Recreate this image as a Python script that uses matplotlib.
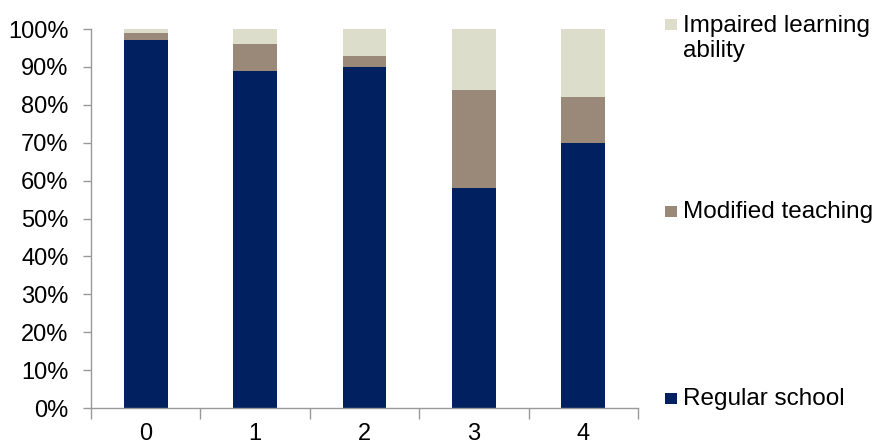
import matplotlib
matplotlib.use("Agg")
import matplotlib.pyplot as plt
from matplotlib.patches import Rectangle
from matplotlib.ticker import FuncFormatter, FixedLocator

plt.rcParams['font.family'] = ['Liberation Sans', 'DejaVu Sans']

categories = ["0", "1", "2", "3", "4"]
regular_school = [97, 89, 90, 58, 70]
modified_teaching = [2, 7, 3, 26, 12]
impaired_learning = [1, 4, 7, 16, 18]

series_names = ["Regular school", "Modified teaching", "Impaired learning\nability"]
colors = ["#002060", "#9A8878", "#DDDDCB"]

fig = plt.figure(figsize=(8.78, 4.45), dpi=100)
ax = fig.add_axes([0.1036, 0.0831, 0.6231, 0.8517])

x = list(range(len(categories)))
bottom = [0] * len(categories)
for vals, col in zip([regular_school, modified_teaching, impaired_learning], colors):
    ax.bar(x, vals, width=0.4, bottom=bottom, color=col, edgecolor="none")
    bottom = [b + v for b, v in zip(bottom, vals)]

ax.set_xlim(-0.5, len(categories) - 0.5)
ax.set_ylim(0, 100)
ax.set_yticks(range(0, 101, 10))
ax.yaxis.set_major_formatter(FuncFormatter(lambda v, p: f"{int(v)}%"))

ax.xaxis.set_major_locator(FixedLocator([i - 0.5 for i in range(len(categories) + 1)]))
ax.xaxis.set_major_formatter(FuncFormatter(lambda v, p: ""))
ax.xaxis.set_minor_locator(FixedLocator(x))
ax.set_xticklabels(categories, minor=True)

ax.tick_params(axis="x", which="major", length=8, width=1, color="#999999", direction="out")
ax.tick_params(axis="x", which="minor", length=0, pad=11, labelsize=17)
ax.tick_params(axis="y", length=6, width=1, color="#999999", direction="out", labelsize=17, pad=10)

for s in ["top", "right"]:
    ax.spines[s].set_visible(False)
for s in ["left", "bottom"]:
    ax.spines[s].set_color("#999999")
    ax.spines[s].set_linewidth(1)

# legend entries placed down the right-hand side (pixel positions from top-left)
W, H = 878, 445
legend_items = [
    (series_names[2], colors[2], 32, 19),
    (series_names[1], colors[1], 218, 206),
    (series_names[0], colors[0], 405, 393),
]
for label, col, baseline, sq_top in legend_items:
    fig.add_artist(Rectangle((665 / W, 1 - (sq_top + 11) / H), 12 / W, 11 / H,
                             transform=fig.transFigure, color=col, lw=0))
    lines = label.split("\n")
    for k, line in enumerate(lines):
        fig.text(683 / W, 1 - (baseline + 25 * k) / H, line, fontsize=17.5,
                 va="baseline", ha="left")

fig.savefig("out.png", dpi=100)
